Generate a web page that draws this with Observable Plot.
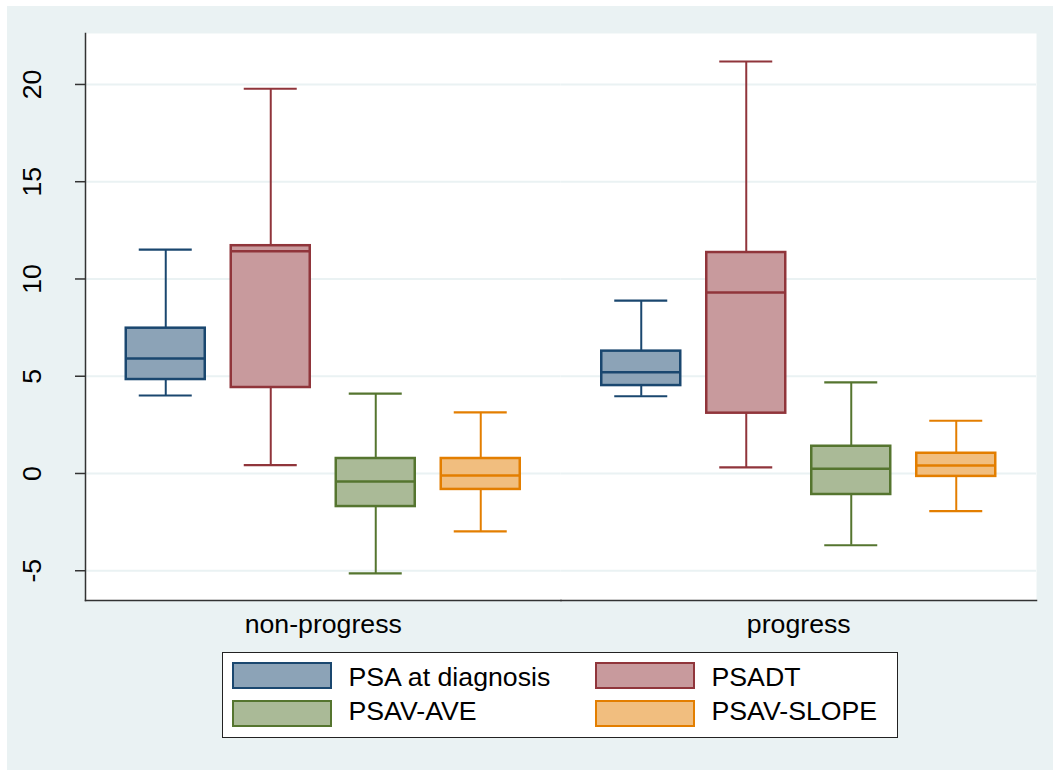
<!DOCTYPE html>
<html>
<head>
<meta charset="utf-8">
<script src="https://cdn.jsdelivr.net/npm/d3@7"></script>
<script src="https://cdn.jsdelivr.net/npm/@observablehq/plot@0.6"></script>
<style>
  body { margin: 0; background: #ffffff; }
  #wrap { position: absolute; left: 7px; top: 6px; width: 1046px; height: 764px; background: #EAF2F3;
          font-family: "Liberation Sans", Arial, sans-serif; }
  #chart svg { display: block; }
  #legend { position: relative; margin-left: 215px; margin-top: 6px; width: 676px; height: 86px;
            box-sizing: border-box; border: 1.5px solid #222; background: #fff; }
  .sw { position: absolute; width: 100px; height: 27px; box-sizing: border-box; border: 2.5px solid; }
  .lt { position: absolute; font-size: 26.7px; line-height: 26px; color: #000; white-space: nowrap; }
</style>
</head>
<body>
<div id="wrap"><div id="chart"></div><div id="legend"></div></div>
<script>
const groups = ["non-progress", "progress"];
const series = ["PSA at diagnosis", "PSADT", "PSAV-AVE", "PSAV-SLOPE"];
// per group, per series
const lowerWhisker = [[4.01, 0.43, -5.14, -2.98], [3.97, 0.31, -3.69, -1.94]];
const q1 =           [[4.83, 4.42, -1.70, -0.82], [4.52, 3.10, -1.08, -0.15]];
const median =       [[5.91, 11.43, -0.41, -0.10], [5.21, 9.31, 0.24, 0.41]];
const q3 =           [[7.47, 11.71, 0.77, 0.77], [6.29, 11.36, 1.40, 1.04]];
const upperWhisker = [[11.51, 19.78, 4.11, 3.14], [8.89, 21.18, 4.68, 2.71]];
const yTicks = [-5, 0, 5, 10, 15, 20];

const strokeColors = ["#1A476F", "#90353B", "#55752F", "#E37E00"];
const fillColors = ["#8CA3B7", "#C89A9D", "#AABA97", "#F1BE7F"];

const rows = [];
groups.forEach((g, gi) => series.forEach((s, si) => rows.push({
  group: g, series: s, lo: lowerWhisker[gi][si], q1: q1[gi][si], med: median[gi][si],
  q3: q3[gi][si], hi: upperWhisker[gi][si]
})));
const strokeOf = d => strokeColors[series.indexOf(d.series)];
const fillOf = d => fillColors[series.indexOf(d.series)];

const chart = Plot.plot({
  width: 1046, height: 640,
  marginTop: 27, marginBottom: 46, marginLeft: 78, marginRight: 17,
  style: { background: "transparent", fontFamily: "'Liberation Sans', Arial, sans-serif", fontSize: "26.7px", color: "#000" },
  fx: { domain: groups, padding: 0, round: false, label: null, axis: null },
  x: { domain: series, paddingInner: 0.24762, paddingOuter: 0.3881, round: false, axis: null },
  y: { domain: [-6.53, 22.62], axis: null },
  marks: [
    Plot.frame({ fill: "#fff", stroke: "none" }),
    Plot.ruleY(yTicks, { y: d => d, stroke: "#EAF2F3", strokeWidth: 2 }),
    Plot.frame({ anchor: "left", facetAnchor: "left", stroke: "#333", strokeWidth: 1.5 }),
    Plot.frame({ anchor: "bottom", stroke: "#333", strokeWidth: 1.5 }),
    Plot.axisY(yTicks, { anchor: "left", tickSize: 10, tickRotate: -90, tickPadding: 35,
      tickFormat: d => String(d),
      stroke: "#333", strokeWidth: 1.5, fill: "#000", fontSize: 26.7, label: null }),
    Plot.axisFx({ anchor: "bottom", tickSize: 0, tickPadding: 14, fontSize: 26.7, fill: "#000", label: null }),
    Plot.ruleX(rows, { fx: "group", x: "series", y1: "lo", y2: "hi", stroke: strokeOf, strokeWidth: 2 }),
    Plot.barY(rows, { fx: "group", x: "series", y1: "q1", y2: "q3", fill: fillOf, stroke: strokeOf, strokeWidth: 2.5 }),
    Plot.tickY(rows, { fx: "group", x: "series", y: "med", stroke: strokeOf, strokeWidth: 2.5 }),
    Plot.tickY(rows, { fx: "group", x: "series", y: "lo", stroke: strokeOf, strokeWidth: 2.2, insetLeft: 13, insetRight: 13 }),
    Plot.tickY(rows, { fx: "group", x: "series", y: "hi", stroke: strokeOf, strokeWidth: 2.2, insetLeft: 13, insetRight: 13 })
  ]
});
document.getElementById("chart").appendChild(chart);

// legend
const legend = document.getElementById("legend");
const pos = [
  { sx: 8.5, sy: 9.2, tx: 125.5, ty: 11.2 },
  { sx: 371.5, sy: 9.2, tx: 488.5, ty: 11.2 },
  { sx: 8.5, sy: 46.5, tx: 125.5, ty: 45.2 },
  { sx: 371.5, sy: 46.5, tx: 488.5, ty: 45.2 }
];
series.forEach((s, i) => {
  const sw = document.createElement("div");
  sw.className = "sw";
  sw.style.left = pos[i].sx + "px"; sw.style.top = pos[i].sy + "px";
  sw.style.borderColor = strokeColors[i]; sw.style.background = fillColors[i];
  legend.appendChild(sw);
  const t = document.createElement("div");
  t.className = "lt";
  t.style.left = pos[i].tx + "px"; t.style.top = pos[i].ty + "px";
  t.textContent = s;
  legend.appendChild(t);
});
</script>
</body>
</html>
